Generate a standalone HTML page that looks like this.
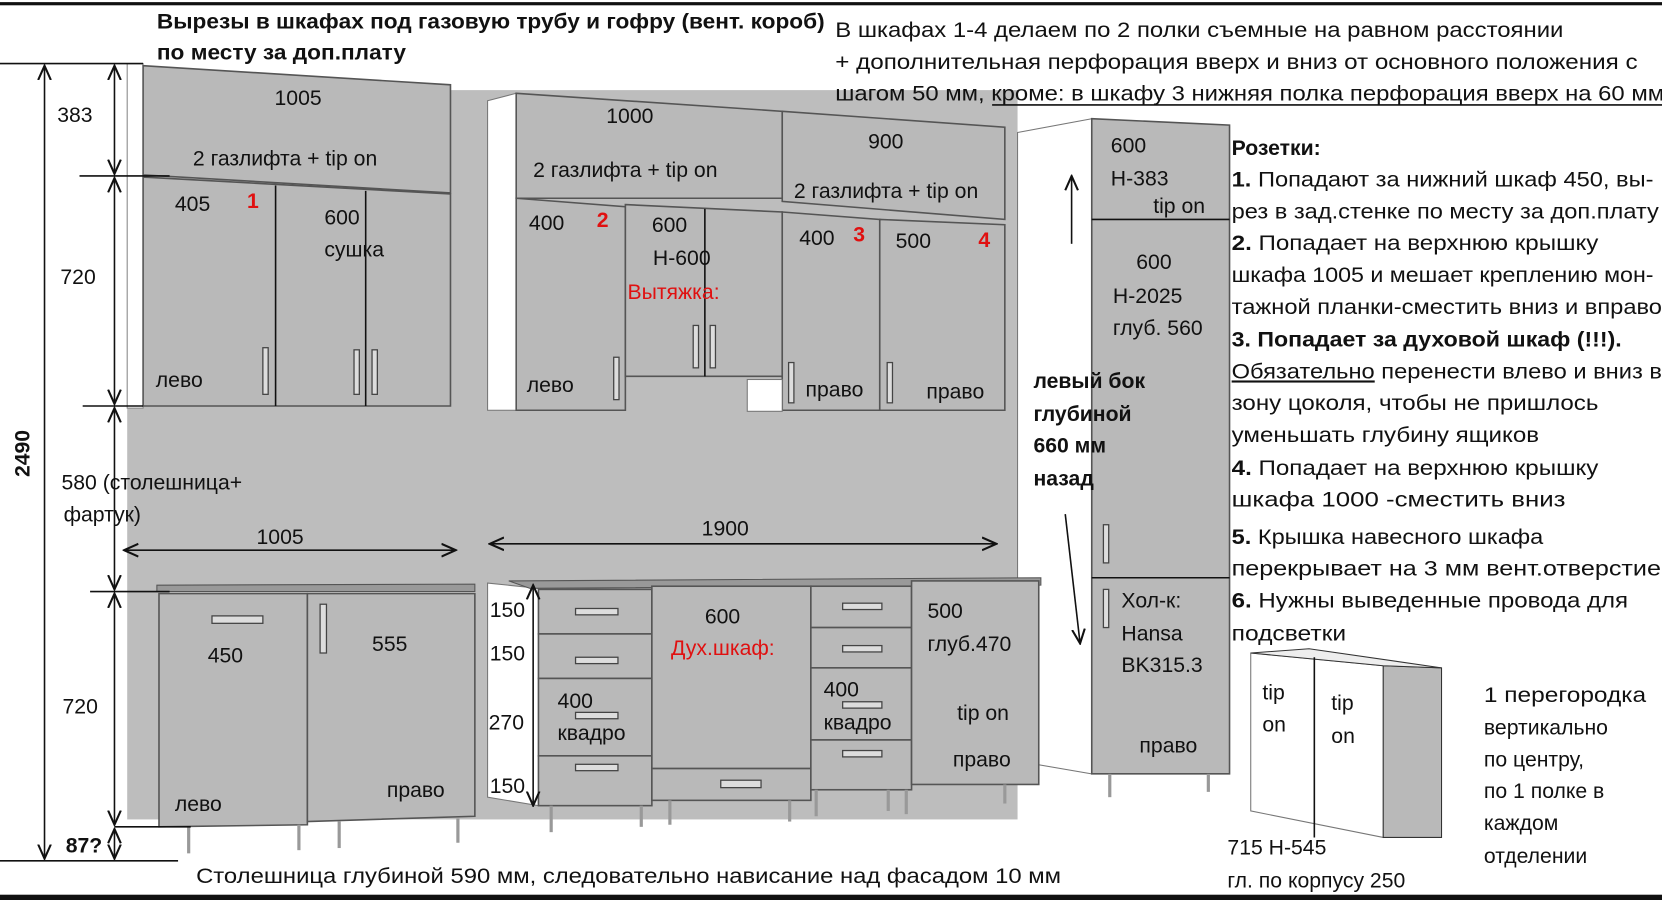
<!DOCTYPE html>
<html><head><meta charset="utf-8"><style>
html,body{margin:0;padding:0;background:#fff;}
svg{display:block;}
text{font-family:"Liberation Sans","DejaVu Sans",sans-serif;font-size:20px;fill:#111;}
.b{font-weight:bold;}
.r{fill:#e01010;}
.cab{fill:#b9b9b9;stroke:#555;stroke-width:1.5;}
.wh{fill:#fff;stroke:#777;stroke-width:1;}
.ln{stroke:#111;stroke-width:1.5;fill:none;}
.h{fill:#ddd;stroke:#444;stroke-width:1.2;}
.leg{stroke:#999;stroke-width:3;}
</style></head><body>
<svg width="1662" height="900" viewBox="0 0 1568 849" preserveAspectRatio="none" xmlns="http://www.w3.org/2000/svg">
<defs><marker id="a" markerWidth="10" markerHeight="10" refX="9" refY="5" orient="auto-start-reverse"><path d="M0,1 L9,5 L0,9" fill="none" stroke="#111" stroke-width="1.3"/></marker></defs>
<rect x="0" y="0" width="1568" height="849" fill="#fff"/>
<rect x="0" y="2" width="1568" height="3" fill="#111"/>
<rect x="0" y="844" width="1568" height="5" fill="#111"/>
<!-- wall -->
<rect x="120" y="85" width="840" height="688" fill="#bdbdbd"/>
<rect x="120" y="60" width="15" height="325" fill="#fff" stroke="#888"/>
<!-- upper left -->
<polygon class="cab" points="135,62 425,80 425,182 135,165"/>
<polygon class="cab" points="135,167 425,183 425,383 135,383"/>
<line class="ln" x1="260" y1="175" x2="260" y2="383" stroke="#555"/>
<line class="ln" x1="345" y1="180" x2="345" y2="383" stroke="#555"/>
<rect class="h" x="248" y="328" width="5" height="44"/><rect class="h" x="334" y="330" width="5" height="42"/><rect class="h" x="351" y="330" width="5" height="42"/>
<!-- upper middle -->
<polygon class="wh" points="460,95 487,88 487,387 460,387"/>
<polygon class="cab" points="487,88 738,105 738,187 487,187"/>
<polygon class="cab" points="738,105 948,120 948,207 738,190"/>
<polygon class="cab" points="487,187 590,195 590,387 487,387"/>
<polygon class="cab" points="590,193 738,200 738,355 590,355"/>
<line class="ln" x1="665" y1="197" x2="665" y2="355" stroke="#555"/>
<polygon class="cab" points="738,200 830,207 830,387 738,387"/>
<polygon class="cab" points="830,207 948,212 948,387 830,387"/>
<rect class="wh" x="705" y="358" width="33" height="30"/>
<rect class="h" x="579" y="337" width="5" height="40"/><rect class="h" x="654" y="307" width="5" height="40"/><rect class="h" x="670" y="307" width="5" height="40"/>
<rect class="h" x="744" y="342" width="5" height="38"/><rect class="h" x="837" y="342" width="5" height="38"/>
<!-- tall column -->
<polygon class="wh" points="960,125 1030,112 1030,730 960,718"/>
<polygon class="cab" points="1030,112 1160,118 1160,730 1030,730"/>
<line class="ln" x1="1030" y1="207" x2="1160" y2="207" stroke="#555"/>
<line class="ln" x1="1030" y1="545" x2="1160" y2="545" stroke="#555"/>
<rect class="h" x="1041" y="495" width="5" height="36"/><rect class="h" x="1041" y="556" width="5" height="36"/>
<line class="leg" x1="1047" y1="730" x2="1047" y2="752"/><line class="leg" x1="1140" y1="730" x2="1140" y2="747"/>
<!-- lower left -->
<polygon points="148,552 448,551 448,558 148,558" fill="#999" stroke="#555"/>
<polygon class="cab" points="150,560 290,560 290,778 150,780"/>
<polygon class="cab" points="290,560 448,560 448,770 290,775"/>
<rect class="h" x="200" y="581" width="48" height="7"/><rect class="h" x="302" y="570" width="6" height="46"/>
<line class="leg" x1="178" y1="780" x2="178" y2="805"/><line class="leg" x1="282" y1="778" x2="282" y2="802"/><line class="leg" x1="320" y1="775" x2="320" y2="800"/><line class="leg" x1="432" y1="772" x2="432" y2="795"/>
<!-- lower middle -->
<polygon class="wh" points="460,550 508,555 508,760 460,752"/>
<polygon points="480,548 982,545 982,552 500,555" fill="#999" stroke="#555"/>
<rect class="cab" x="508" y="556" width="107" height="42"/><rect class="cab" x="508" y="598" width="107" height="42"/>
<rect class="cab" x="508" y="640" width="107" height="73"/><rect class="cab" x="508" y="713" width="107" height="47"/>
<rect class="cab" x="615" y="553" width="150" height="172"/><rect class="cab" x="615" y="725" width="150" height="30"/>
<rect class="cab" x="765" y="553" width="95" height="39"/><rect class="cab" x="765" y="592" width="95" height="38"/>
<rect class="cab" x="765" y="630" width="95" height="68"/><rect class="cab" x="765" y="698" width="95" height="47"/>
<rect class="cab" x="860" y="548" width="120" height="192"/>
<rect class="h" x="543" y="574" width="40" height="6"/><rect class="h" x="543" y="620" width="40" height="6"/><rect class="h" x="543" y="672" width="40" height="6"/><rect class="h" x="543" y="721" width="40" height="6"/>
<rect class="h" x="680" y="736" width="38" height="7"/>
<rect class="h" x="795" y="569" width="37" height="6"/><rect class="h" x="795" y="609" width="37" height="6"/><rect class="h" x="795" y="662" width="37" height="6"/><rect class="h" x="795" y="708" width="37" height="6"/>
<line class="leg" x1="520" y1="760" x2="520" y2="785"/><line class="leg" x1="605" y1="760" x2="605" y2="780"/><line class="leg" x1="632" y1="755" x2="632" y2="778"/><line class="leg" x1="745" y1="755" x2="745" y2="775"/><line class="leg" x1="770" y1="745" x2="770" y2="770"/><line class="leg" x1="838" y1="745" x2="838" y2="765"/><line class="leg" x1="855" y1="745" x2="855" y2="768"/><line class="leg" x1="948" y1="740" x2="948" y2="758"/>
<line class="ln" x1="503" y1="552" x2="503" y2="760" marker-start="url(#a)" marker-end="url(#a)"/>
<!-- small cabinet -->
<polygon class="wh" points="1180,616 1305,628 1305,790 1180,765" stroke="#333"/>
<polygon points="1305,628 1360,630 1360,790 1305,790" fill="#b9b9b9" stroke="#333"/>
<polygon points="1180,616 1235,612 1360,630 1305,628" fill="#eee" stroke="#333"/>
<line class="ln" x1="1240" y1="620" x2="1240" y2="790"/>
<!-- dimension lines -->
<line class="ln" x1="0" y1="60" x2="135" y2="60"/><line class="ln" x1="0" y1="812" x2="168" y2="812"/>
<line class="ln" x1="75" y1="166" x2="160" y2="166"/><line class="ln" x1="78" y1="383" x2="135" y2="383"/>
<line class="ln" x1="85" y1="558" x2="160" y2="558"/><line class="ln" x1="108" y1="780" x2="180" y2="780"/>
<line class="ln" x1="42" y1="62" x2="42" y2="810" marker-start="url(#a)" marker-end="url(#a)"/>
<line class="ln" x1="108" y1="62" x2="108" y2="164" marker-start="url(#a)" marker-end="url(#a)"/>
<line class="ln" x1="108" y1="168" x2="108" y2="381" marker-start="url(#a)" marker-end="url(#a)"/>
<line class="ln" x1="108" y1="385" x2="108" y2="556" marker-start="url(#a)" marker-end="url(#a)"/>
<line class="ln" x1="108" y1="560" x2="108" y2="778" marker-start="url(#a)" marker-end="url(#a)"/>
<line class="ln" x1="108" y1="782" x2="108" y2="810" marker-start="url(#a)" marker-end="url(#a)"/>
<line class="ln" x1="117" y1="519" x2="430" y2="519" marker-start="url(#a)" marker-end="url(#a)"/>
<line class="ln" x1="462" y1="513" x2="940" y2="513" marker-start="url(#a)" marker-end="url(#a)"/>
<line class="ln" x1="1011" y1="230" x2="1011" y2="166" marker-end="url(#a)"/>
<line class="ln" x1="1005" y1="485" x2="1019" y2="607" marker-end="url(#a)"/>
<!-- labels -->
<text class="b" x="148" y="27" textLength="630" lengthAdjust="spacingAndGlyphs">Вырезы в шкафах под газовую трубу и гофру (вент. короб)</text>
<text class="b" x="148" y="56" textLength="235" lengthAdjust="spacingAndGlyphs">по месту за доп.плату</text>
<text x="788" y="35" textLength="687" lengthAdjust="spacingAndGlyphs">В шкафах 1-4 делаем по 2 полки съемные на  равном расстоянии</text>
<text x="788" y="65" textLength="757" lengthAdjust="spacingAndGlyphs">+  дополнительная перфорация вверх и вниз от основного положения с</text>
<text x="788" y="95" textLength="782" lengthAdjust="spacingAndGlyphs">шагом 50 мм, кроме: в шкафу 3 нижняя полка перфорация вверх на 60 мм</text>
<line class="ln" x1="936" y1="99" x2="1568" y2="99" stroke-width="1"/>
<text class="b" x="1162" y="146">Розетки:</text>
<text x="1162" y="176" textLength="398" lengthAdjust="spacingAndGlyphs"><tspan class="b">1.</tspan> Попадают за нижний шкаф 450, вы-</text>
<text x="1162" y="206" textLength="403" lengthAdjust="spacingAndGlyphs">рез в зад.стенке по месту за доп.плату</text>
<text x="1162" y="236" textLength="346" lengthAdjust="spacingAndGlyphs"><tspan class="b">2.</tspan> Попадает на верхнюю крышку</text>
<text x="1162" y="266" textLength="398" lengthAdjust="spacingAndGlyphs">шкафа 1005 и мешает креплению мон-</text>
<text x="1162" y="296" textLength="406" lengthAdjust="spacingAndGlyphs">тажной планки-сместить вниз и вправо</text>
<text class="b" x="1162" y="327" textLength="368" lengthAdjust="spacingAndGlyphs">3. Попадает за духовой шкаф (!!!).</text>
<text x="1162" y="357" textLength="406" lengthAdjust="spacingAndGlyphs"><tspan text-decoration="underline">Обязательно</tspan> перенести влево и вниз в</text>
<text x="1162" y="387" textLength="346" lengthAdjust="spacingAndGlyphs">зону цоколя, чтобы не пришлось</text>
<text x="1162" y="417" textLength="290" lengthAdjust="spacingAndGlyphs">уменьшать глубину ящиков</text>
<text x="1162" y="448" textLength="346" lengthAdjust="spacingAndGlyphs"><tspan class="b">4.</tspan> Попадает на верхнюю крышку</text>
<text x="1162" y="478" textLength="315" lengthAdjust="spacingAndGlyphs">шкафа 1000 -сместить вниз</text>
<text x="1162" y="513" textLength="294" lengthAdjust="spacingAndGlyphs"><tspan class="b">5.</tspan> Крышка навесного шкафа</text>
<text x="1162" y="543" textLength="405" lengthAdjust="spacingAndGlyphs">перекрывает на 3 мм вент.отверстие</text>
<text x="1162" y="573" textLength="374" lengthAdjust="spacingAndGlyphs"><tspan class="b">6.</tspan> Нужны выведенные провода для</text>
<text x="1162" y="604" textLength="108" lengthAdjust="spacingAndGlyphs">подсветки</text>
<text class="b" x="28" y="450" transform="rotate(-90 28 450)" text-anchor="start">2490</text>
<text x="54" y="115">383</text><text x="57" y="268">720</text>
<text x="58" y="462">580 (столешница+</text><text x="60" y="492">фартук)</text>
<text x="59" y="673">720</text><text class="b" x="62" y="804">87?</text>
<text x="242" y="513">1005</text><text x="662" y="505">1900</text>
<text x="259" y="99">1005</text><text x="182" y="156">2 газлифта + tip on</text>
<text x="165" y="199">405</text><text class="r b" x="233" y="196">1</text>
<text x="306" y="212">600</text><text x="306" y="242">сушка</text><text x="147" y="365">лево</text>
<text x="572" y="116">1000</text><text x="503" y="167">2 газлифта + tip on</text>
<text x="819" y="140">900</text><text x="749" y="187">2 газлифта + tip on</text>
<text x="499" y="217">400</text><text class="r b" x="563" y="214">2</text>
<text x="615" y="219">600</text><text x="616" y="250">H-600</text><text class="r" x="592" y="282">Вытяжка:</text>
<text x="497" y="370">лево</text>
<text x="754" y="231">400</text><text class="r b" x="805" y="228">3</text><text x="760" y="374">право</text>
<text x="845" y="234">500</text><text class="r b" x="923" y="233">4</text><text x="874" y="376">право</text>
<text x="196" y="625">450</text><text x="351" y="614">555</text><text x="165" y="765">лево</text><text x="365" y="752">право</text>
<text x="462" y="582">150</text><text x="462" y="623">150</text><text x="461" y="688">270</text><text x="462" y="748">150</text>
<text x="526" y="668">400</text><text x="526" y="698">квадро</text>
<text x="665" y="588">600</text><text class="r" x="633" y="618">Дух.шкаф:</text>
<text x="777" y="657">400</text><text x="777" y="688">квадро</text>
<text x="875" y="583">500</text><text x="875" y="614">глуб.470</text><text x="903" y="679">tip on</text><text x="899" y="723">право</text>
<text x="1048" y="144">600</text><text x="1048" y="175">H-383</text><text x="1088" y="201">tip on</text>
<text x="1072" y="254">600</text><text x="1050" y="286">H-2025</text><text x="1050" y="316">глуб. 560</text>
<text x="1058" y="573">Хол-к:</text><text x="1058" y="604">Hansa</text><text x="1058" y="634">BK315.3</text><text x="1075" y="710">право</text>
<text class="b" x="975" y="366">левый бок</text><text class="b" x="975" y="397">глубиной</text><text class="b" x="975" y="427">660 мм</text><text class="b" x="975" y="458">назад</text>
<text x="1191" y="660">tip</text><text x="1191" y="690">on</text><text x="1256" y="670">tip</text><text x="1256" y="701">on</text>
<text x="1158" y="806">715 H-545</text><text x="1158" y="837">гл. по корпусу 250</text>
<text x="1400" y="662" textLength="153" lengthAdjust="spacingAndGlyphs">1 перегородка</text><text x="1400" y="693">вертикально</text><text x="1400" y="723">по центру,</text>
<text x="1400" y="753">по 1 полке в</text><text x="1400" y="783">каждом</text><text x="1400" y="814">отделении</text>
<text x="185" y="833" textLength="816" lengthAdjust="spacingAndGlyphs">Столешница глубиной 590 мм, следовательно нависание над фасадом 10 мм</text>
</svg>
</body></html>
